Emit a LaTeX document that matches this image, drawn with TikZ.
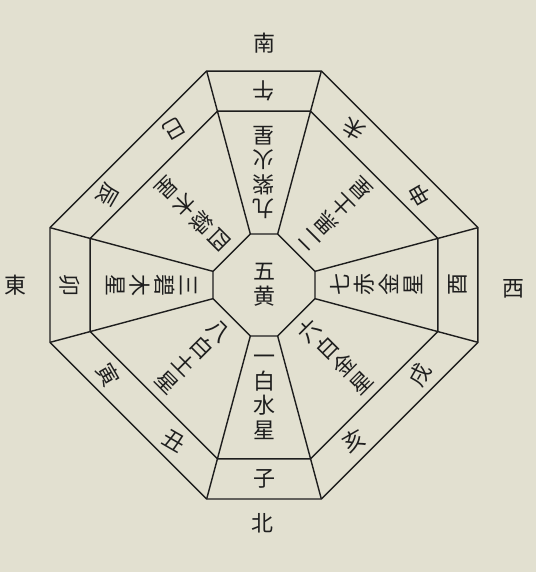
\documentclass[tikz,border=0pt]{standalone}
\usepackage{fontspec}
\newfontfamily\cjk{Noto Sans CJK JP}
\definecolor{paper}{RGB}{226,224,208}
\definecolor{ink}{RGB}{30,30,30}

\begin{document}
\begin{tikzpicture}[x=0.02cm, y=0.02cm,
    edge/.style={ink, line width=0.8pt},
    kanji/.style={ink, font=\cjk\fontsize{12.5}{14}\selectfont, inner sep=0pt, align=center}]
  \fill[paper] (-264,-287) rectangle (272,285);
  \newcommand{\octagon}[1]
  {%
    \draw[edge] (15:#1) -- (75:#1) -- (105:#1) -- (165:#1) -- (195:#1)
      -- (255:#1) -- (285:#1) -- (345:#1) -- cycle;%
  }%
  \newcommand{\sectortext}[4]
  {%
    \node[kanji, rotate=#2+90] (#1) at (#2:#3) {#4};%
  }%
  \octagon{52.8}
  \octagon{180}
  \octagon{221.5}
  \draw[edge] (15:52.8)  -- (15:221.5);
  \draw[edge] (75:52.8)  -- (75:221.5);
  \draw[edge] (105:52.8) -- (105:221.5);
  \draw[edge] (165:52.8) -- (165:221.5);
  \draw[edge] (195:52.8) -- (195:221.5);
  \draw[edge] (255:52.8) -- (255:221.5);
  \draw[edge] (285:52.8) -- (285:221.5);
  \draw[edge] (345:52.8) -- (345:221.5);
  % nine stars
  \node[kanji] (gokou) at (0,0) {五\\黄};
  \sectortext{kyushi}{90}{112.5}{九\\紫\\火\\星}
  \sectortext{jikoku}{45}{101}{二\\黒\\土\\星}
  \sectortext{shichiseki}{0}{112.5}{七\\赤\\金\\星}
  \sectortext{roppaku}{315}{101}{六\\白\\金\\星}
  \sectortext{ippaku}{270}{112.5}{一\\白\\水\\星}
  \sectortext{happaku}{225}{101}{八\\白\\土\\星}
  \sectortext{sanpeki}{180}{112.5}{三\\碧\\木\\星}
  \sectortext{shiroku}{135}{101}{四\\緑\\木\\星}
  % twelve branches
  \sectortext{ne}{270}{194}{子}
  \sectortext{ushi}{240}{180}{丑}
  \sectortext{tora}{210}{180}{寅}
  \sectortext{u}{180}{194}{卯}
  \sectortext{tatsu}{150}{180}{辰}
  \sectortext{mi}{120}{180}{巳}
  \sectortext{uma}{90}{194}{午}
  \sectortext{hitsuji}{60}{180}{未}
  \sectortext{saru}{30}{180}{申}
  \sectortext{tori}{0}{194}{酉}
  \sectortext{inu}{330}{180}{戌}
  \sectortext{i}{300}{180}{亥}
  % directions
  \node[kanji] (minami) at (0,242) {南};
  \node[kanji] (kita) at (-2,-238) {北};
  \node[kanji] (higashi) at (-249,0) {東};
  \node[kanji] (nishi) at (249,-4) {西};
\end{tikzpicture}
\end{document}
